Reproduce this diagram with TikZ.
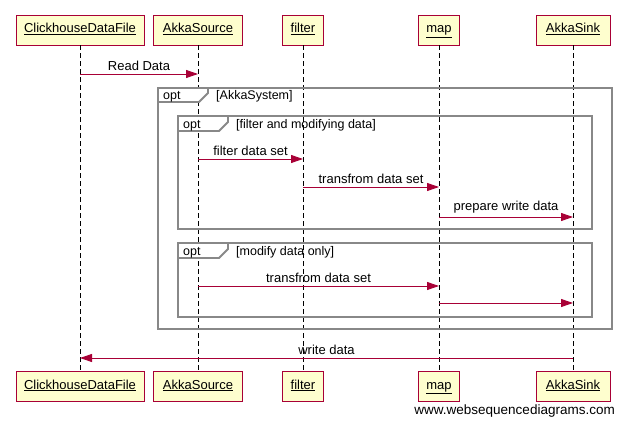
\documentclass[tikz,border=0pt]{standalone}
\usepackage{fontspec}
\setmainfont{Liberation Sans}
\usetikzlibrary{arrows.meta}
\definecolor{actorborder}{HTML}{A80036}
\definecolor{actorfill}{HTML}{FEFECE}
\definecolor{framegray}{HTML}{888888}
\begin{document}
\begin{tikzpicture}[x=1pt,y=-1pt,
  actor/.style={draw=actorborder, fill=actorfill, line width=0.9pt, minimum height=30pt, inner sep=0pt, text height=9.5pt, text depth=3.5pt, font=\fontsize{13}{15}\selectfont},
  msg/.style={draw=actorborder, line width=0.9pt, -{Triangle[length=12pt,width=8pt]}},
  msglbl/.style={font=\fontsize{13}{15}\selectfont, inner sep=0pt, anchor=base},
  framelbl/.style={font=\fontsize{12.5}{15}\selectfont, inner sep=0pt, anchor=base west},
  lifeline/.style={draw=black, dash pattern=on 5pt off 3pt, line width=0.9pt},
  frame/.style={draw=framegray, line width=1.8pt},
  tag/.style={draw=framegray, fill=white, line width=1.8pt},
]
\useasboundingbox (0,0) rectangle (625,425);
\fill[white] (0,0) rectangle (625,425);

\coordinate (lc) at (80,0);
\coordinate (ls) at (198,0);
\coordinate (lf) at (303,0);
\coordinate (lm) at (439,0);
\coordinate (lk) at (573,0);
\coordinate (ytop) at (0,30);
\coordinate (ybot) at (0,386);

\node[actor, minimum width=128pt] (cT) at (lc |- ytop) {\underline{ClickhouseDataFile}};
\node[actor, minimum width=89pt] (sT) at (ls |- ytop) {\underline{AkkaSource}};
\node[actor, minimum width=41pt] (fT) at (lf |- ytop) {\underline{filter}};
\node[actor, minimum width=41pt] (mT) at (lm |- ytop) {\underline{map}};
\node[actor, minimum width=74pt] (kT) at (lk |- ytop) {\underline{AkkaSink}};

\node[actor, minimum width=128pt] (cB) at (lc |- ybot) {\underline{ClickhouseDataFile}};
\node[actor, minimum width=89pt] (sB) at (ls |- ybot) {\underline{AkkaSource}};
\node[actor, minimum width=41pt] (fB) at (lf |- ybot) {\underline{filter}};
\node[actor, minimum width=41pt] (mB) at (lm |- ybot) {\underline{map}};
\node[actor, minimum width=74pt] (kB) at (lk |- ybot) {\underline{AkkaSink}};

\draw[lifeline] (cT.south) -- (cB.north);
\draw[lifeline] (sT.south) -- (sB.north);
\draw[lifeline] (fT.south) -- (fB.north);
\draw[lifeline] (mT.south) -- (mB.north);
\draw[lifeline] (kT.south) -- (kB.north);

% frames
\draw[frame] (158,88) rectangle (612,329);
\draw[tag] (158,88) -- (158,102) -- (199,102) -- (208,93) -- (208,88) -- cycle;
\node[framelbl] (o1) at (163,100) {opt};
\node[framelbl] (o1t) at (216,100) {[AkkaSystem]};

\draw[frame] (178,116) rectangle (592,229);
\draw[tag] (178,116) -- (178,131) -- (219,131) -- (228,122) -- (228,116) -- cycle;
\node[framelbl] (o2) at (183,129) {opt};
\node[framelbl] (o2t) at (236,129) {[filter and modifying data]};

\draw[frame] (178,243) rectangle (592,317);
\draw[tag] (178,243) -- (178,258) -- (219,258) -- (228,249) -- (228,243) -- cycle;
\node[framelbl] (o3) at (183,256) {opt};
\node[framelbl] (o3t) at (236,256) {[modify data only]};

% messages
\coordinate (y1) at (0,74);
\coordinate (y2) at (0,159);
\coordinate (y3) at (0,187);
\coordinate (y4) at (0,217);
\coordinate (y5) at (0,286);
\coordinate (y6) at (0,303);
\coordinate (y7) at (0,358);

\draw[msg] (cT |- y1) -- node[msglbl, above=3pt] (t1) {Read Data} (sT |- y1);
\draw[msg] (sT |- y2) -- node[msglbl, above=3pt] (t2) {filter data set} (fT |- y2);
\draw[msg] (fT |- y3) -- node[msglbl, above=3pt] (t3) {transfrom data set} (mT |- y3);
\draw[msg] (mT |- y4) -- node[msglbl, above=3pt] (t4) {prepare write data} (kT |- y4);
\draw[msg] (sT |- y5) -- node[msglbl, above=3pt] (t5) {transfrom data set} (mT |- y5);
\draw[msg] (mT |- y6) -- (kT |- y6);
\draw[msg] (kT |- y7) -- node[msglbl, above=3pt] (t7) {write data} (cT |- y7);

\node[font=\fontsize{13.5}{15}\selectfont, inner sep=0pt, anchor=base east] (wm) at (615,414) {www.websequencediagrams.com};
\end{tikzpicture}
\end{document}
